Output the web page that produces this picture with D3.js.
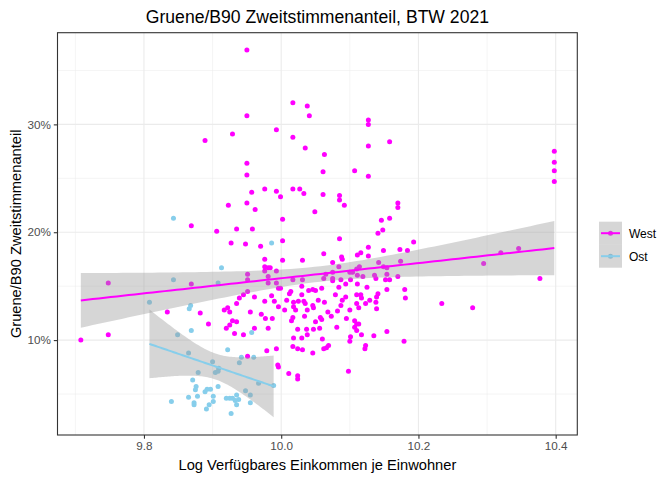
<!DOCTYPE html>
<html>
<head>
<meta charset="utf-8">
<script src="https://cdn.jsdelivr.net/npm/d3@7"></script>
<style>
  body { margin: 0; background: #fff; }
  svg { font-family: "Liberation Sans", Arial, sans-serif; }
</style>
</head>
<body>
<div id="chart"></div>
<script>
// log income per inhabitant vs. Green party second-vote share (%)
var westX = [9.950,10.017,10.038,9.950,10.041,9.993,9.889,9.929,10.017,10.035,10.063,9.950,9.950,10.061,9.976,9.993,9.957,9.999,10.017,10.027,
  10.033,10.061,10.085,10.085,9.923,9.950,9.962,10.049,10.002,9.869,9.906,9.935,9.958,9.927,9.948,9.970,10.002,10.085,10.127,10.127,
  10.158,10.127,10.107,10.127,10.092,10.170,10.170,10.146,10.158,10.148,10.141,10.193,10.127,10.149,10.173,10.184,10.346,10.398,10.398,10.398,
  10.398,10.320,10.295,10.377,10.234,10.279,10.179,10.154,10.098,9.708,9.748,9.748,9.834,9.869,9.882,9.894,9.976,9.976,9.981,9.976,
  9.981,9.951,9.951,9.981,9.951,9.945,9.939,9.961,9.976,9.935,9.917,9.922,9.925,9.955,9.971,9.977,9.929,9.935,9.925,9.920,
  9.932,9.945,9.961,9.981,10.062,10.088,10.089,10.111,10.002,10.031,10.075,9.984,10.084,10.114,9.993,10.017,10.031,10.062,10.065,10.075,
  10.075,10.075,10.087,10.100,10.104,10.101,10.111,9.993,9.996,9.999,10.094,10.084,10.030,10.040,10.046,10.050,10.059,10.014,10.012,10.030,
  9.986,10.079,10.094,10.110,9.990,10.008,10.018,10.025,10.033,10.035,10.054,10.063,10.089,9.996,10.018,10.046,10.047,10.087,10.110,10.005,
  10.021,10.038,10.100,10.082,10.068,9.987,10.017,10.015,10.034,10.057,10.073,10.095,10.050,10.059,10.107,10.110,10.113,10.107,10.024,10.037,
  10.047,10.056,10.081,10.110,10.018,10.030,10.060,10.101,10.116,10.127,10.142,10.149,10.154,10.174,10.110,10.119,10.136,10.138,10.154,10.170,
  10.152,10.158,10.111,10.125,10.154,10.180,10.116,10.117,10.141,10.139,10.181,10.129,10.123,10.138,10.113,10.139,10.117,10.135,10.100,10.123,
  10.122,10.038,10.017,10.024,10.031,9.993,9.979,10.046,10.062,10.066,10.069,9.995,9.996,10.011,10.024,10.024,9.951];
var westY = [36.9,32.0,31.7,30.8,30.8,29.5,28.5,29.1,28.8,27.8,27.2,26.4,25.3,25.6,24.0,23.8,23.7,23.3,24.0,24.0,
  23.6,23.5,23.4,23.0,22.5,22.7,22.1,21.9,21.2,20.6,20.1,20.3,20.3,19.0,18.9,18.7,19.2,19.4,30.4,30.0,
  28.4,28.0,25.7,25.2,22.5,22.7,22.3,21.1,21.3,20.2,19.9,19.1,18.6,18.3,18.4,18.3,18.5,27.5,26.5,25.7,
  24.7,18.1,17.1,15.7,13.4,13.0,9.9,10.8,7.1,10.0,15.3,10.5,12.6,15.2,12.5,11.5,17.5,16.8,16.7,16.4,
  15.9,16.1,15.6,15.3,14.5,14.2,13.9,14.0,13.6,13.4,12.8,13.0,12.6,12.6,12.4,12.0,11.8,11.7,11.4,11.1,
  10.6,10.5,11.1,11.1,18.0,17.7,17.5,17.9,17.4,17.4,17.2,16.7,16.8,16.8,16.4,15.6,15.6,15.7,16.1,16.3,
  15.7,15.5,15.6,16.3,16.3,15.6,16.0,15.3,14.8,14.8,15.2,14.9,15.0,14.6,14.7,14.6,14.8,14.5,14.3,14.2,
  14.1,14.2,14.0,14.2,13.6,13.7,13.5,13.6,13.6,13.4,13.7,13.5,13.7,13.1,13.1,13.2,13.0,13.2,13.4,12.8,
  12.8,12.8,12.8,12.7,12.6,12.0,12.1,11.8,12.2,12.1,12.2,12.0,11.7,11.9,11.8,11.5,11.5,11.2,11.0,11.0,
  11.0,11.1,11.2,10.9,10.2,10.2,10.1,10.3,18.1,17.8,17.2,16.8,16.7,17.3,16.6,15.9,16.0,15.7,16.1,15.9,
  15.6,15.6,15.2,14.9,14.7,14.7,14.2,13.9,14.3,14.0,13.9,13.7,13.4,13.5,13.0,12.9,10.5,10.4,9.9,9.5,
  9.2,10.5,9.4,9.2,9.1,9.2,9.0,8.8,9.2,9.3,9.5,7.7,7.5,6.9,6.7,6.4,8.5];

var ostX = [9.843,9.986,9.913,9.843,9.908,9.808,9.868,9.866,9.869,9.849,9.957,9.865,9.900,9.922,9.942,9.939,9.960,9.879,9.904,9.908,
  9.909,9.871,9.876,9.875,9.908,9.892,9.897,9.889,9.967,9.948,9.955,9.840,9.865,9.878,9.901,9.901,9.920,9.925,9.929,9.935,
  9.938,9.933,9.873,9.873,9.895,9.891,9.955,9.935,9.927,9.989];
var ostY = [21.3,19.0,16.7,15.6,15.3,13.5,13.2,12.9,10.9,10.5,10.7,8.8,8.0,9.1,8.4,7.9,8.4,7.0,7.0,7.1,
  7.4,6.3,5.7,5.4,5.7,5.45,5.45,5.2,6.0,5.3,4.9,4.3,4.7,4.8,4.8,4.3,4.6,4.6,4.6,4.9,
  4.5,4.4,4.2,4.0,4.0,3.6,4.2,4.0,3.2,5.8];

var groups = ["West", "Ost"];
var xTicks = [9.8, 10.0, 10.2, 10.4];
var xMinor = [9.7, 9.9, 10.1, 10.3];
var yTicks = [0.1, 0.2, 0.3];
var yMinor = [0.05, 0.15, 0.25, 0.35];

var colors = { West: "#FF00FF", Ost: "#87CEEB" };

var W = 672, H = 480;
var panel = { left: 57.5, top: 32.7, right: 577.3, bottom: 435 };

var svg = d3.select("#chart").append("svg").attr("width", W).attr("height", H);

var x = d3.scaleLinear().domain([9.674, 10.4315]).range([panel.left, panel.right]);
var y = d3.scaleLinear().domain([0.012, 0.385]).range([panel.bottom, panel.top]);

// grid
var grid = svg.append("g");
grid.selectAll(".xmin").data(xMinor).enter().append("line")
  .attr("x1", d => x(d)).attr("x2", d => x(d))
  .attr("y1", panel.top).attr("y2", panel.bottom)
  .attr("stroke", "#EBEBEB").attr("stroke-width", 0.55);
grid.selectAll(".ymin").data(yMinor).enter().append("line")
  .attr("y1", d => y(d)).attr("y2", d => y(d))
  .attr("x1", panel.left).attr("x2", panel.right)
  .attr("stroke", "#EBEBEB").attr("stroke-width", 0.55);
grid.selectAll(".xmaj").data(xTicks).enter().append("line")
  .attr("x1", d => x(d)).attr("x2", d => x(d))
  .attr("y1", panel.top).attr("y2", panel.bottom)
  .attr("stroke", "#EBEBEB").attr("stroke-width", 1.1);
grid.selectAll(".ymaj").data(yTicks).enter().append("line")
  .attr("y1", d => y(d)).attr("y2", d => y(d))
  .attr("x1", panel.left).attr("x2", panel.right)
  .attr("stroke", "#EBEBEB").attr("stroke-width", 1.1);

// points
var pts = [];
westX.forEach(function (v, i) { pts.push({ g: "West", x: v, y: westY[i] / 100 }); });
ostX.forEach(function (v, i) { pts.push({ g: "Ost", x: v, y: ostY[i] / 100 }); });

svg.append("g").selectAll("circle").data(pts).enter().append("circle")
  .attr("cx", d => x(d.x)).attr("cy", d => y(d.y)).attr("r", 2.5)
  .attr("fill", d => colors[d.g]);

// linear fit with 95% confidence band, like geom_smooth(method = "lm")
function fitLm(xs, ys) {
  var n = xs.length;
  var mx = d3.mean(xs), my = d3.mean(ys);
  var sxx = 0, sxy = 0;
  for (var i = 0; i < n; i++) { sxx += (xs[i] - mx) * (xs[i] - mx); sxy += (xs[i] - mx) * (ys[i] - my); }
  var b = sxy / sxx, a = my - b * mx;
  var sse = 0;
  for (var i = 0; i < n; i++) { var r = ys[i] - (a + b * xs[i]); sse += r * r; }
  var s = Math.sqrt(sse / (n - 2));
  var t = 1.96 + 2.4 / (n - 2);
  var lo = d3.min(xs), hi = d3.max(xs);
  return d3.range(80).map(function (k) {
    var xv = lo + (hi - lo) * k / 79;
    var fit = a + b * xv;
    var se = s * Math.sqrt(1 / n + (xv - mx) * (xv - mx) / sxx);
    return { x: xv, y: fit, lo: fit - t * se, hi: fit + t * se };
  });
}

var fits = {
  West: fitLm(westX, westY.map(v => v / 100)),
  Ost: fitLm(ostX, ostY.map(v => v / 100))
};

var area = d3.area().x(d => x(d.x)).y0(d => y(d.lo)).y1(d => y(d.hi));
var line = d3.line().x(d => x(d.x)).y(d => y(d.y));

groups.forEach(function (g) {
  svg.append("path").attr("d", area(fits[g])).attr("fill", "#999999").attr("fill-opacity", 0.4);
  svg.append("path").attr("d", line(fits[g])).attr("fill", "none")
    .attr("stroke", colors[g]).attr("stroke-width", 2);
});

// panel border
svg.append("rect").attr("x", panel.left).attr("y", panel.top)
  .attr("width", panel.right - panel.left).attr("height", panel.bottom - panel.top)
  .attr("fill", "none").attr("stroke", "#333333").attr("stroke-width", 1.1);

// axes
var xAxis = d3.axisBottom(x).tickValues(xTicks).tickFormat(d3.format(".1f")).tickSize(3.7).tickPadding(3);
var gx = svg.append("g").attr("transform", "translate(0," + panel.bottom + ")").call(xAxis);
gx.select(".domain").remove();
gx.selectAll("line").attr("stroke", "#333333").attr("stroke-width", 1.1);
gx.selectAll("text").attr("fill", "#4D4D4D").attr("font-size", "11.7px")
  .attr("font-family", "Liberation Sans, Arial, sans-serif");

var yAxis = d3.axisLeft(y).tickValues(yTicks).tickFormat(d3.format(".0%")).tickSize(3.7).tickPadding(3);
var gy = svg.append("g").attr("transform", "translate(" + panel.left + ",0)").call(yAxis);
gy.select(".domain").remove();
gy.selectAll("line").attr("stroke", "#333333").attr("stroke-width", 1.1);
gy.selectAll("text").attr("fill", "#4D4D4D").attr("font-size", "11.7px")
  .attr("font-family", "Liberation Sans, Arial, sans-serif");

// titles
var cx = (panel.left + panel.right) / 2;
svg.append("text").attr("x", cx).attr("y", 22.5).attr("text-anchor", "middle")
  .attr("font-size", "17.6px").attr("fill", "#000")
  .text("Gruene/B90 Zweitstimmenanteil, BTW 2021");
svg.append("text").attr("x", cx).attr("y", 470).attr("text-anchor", "middle")
  .attr("font-size", "14.67px").attr("fill", "#000")
  .text("Log Verfügbares Einkommen je Einwohner");
svg.append("text").attr("transform", "translate(20.5," + ((panel.top + panel.bottom) / 2) + ") rotate(-90)")
  .attr("text-anchor", "middle").attr("font-size", "14.67px").attr("fill", "#000")
  .text("Gruene/B90 Zweitstimmenanteil");

// legend
var leg = svg.append("g").attr("transform", "translate(599,221.7)");
groups.forEach(function (g, i) {
  var ky = i * 23;
  var k = leg.append("g").attr("transform", "translate(0," + ky + ")");
  k.append("circle").attr("cx", 11.5).attr("cy", 11.5).attr("r", 2.5).attr("fill", colors[g]);
  k.append("rect").attr("width", 23).attr("height", 23).attr("fill", "#999999").attr("fill-opacity", 0.4);
  k.append("line").attr("x1", 2).attr("x2", 21).attr("y1", 11.5).attr("y2", 11.5)
    .attr("stroke", colors[g]).attr("stroke-width", 2);
  k.append("text").attr("x", 30).attr("y", 11.5).attr("dy", "0.36em")
    .attr("font-size", "12px").attr("fill", "#000").text(g);
});
</script>
</body>
</html>
